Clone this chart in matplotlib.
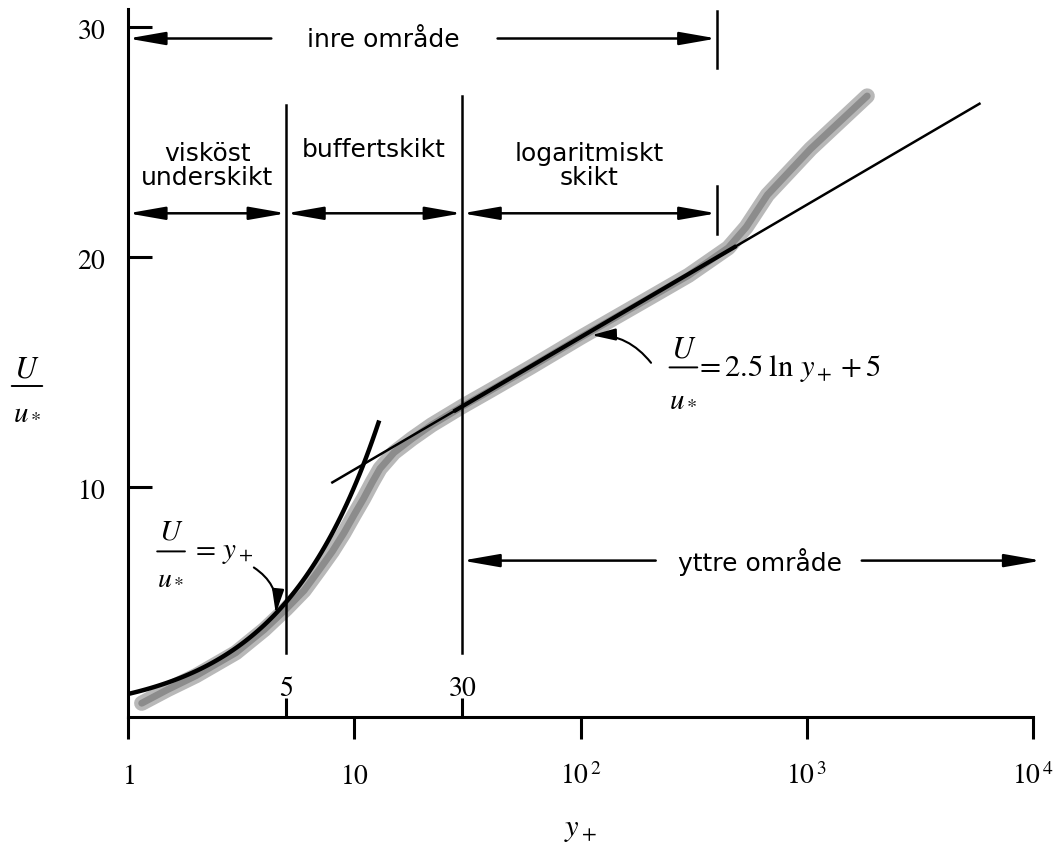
import numpy as np
import matplotlib
matplotlib.use("Agg")
import matplotlib.pyplot as plt
from matplotlib.transforms import offset_copy

plt.rcParams["mathtext.fontset"] = "stix"
plt.rcParams["font.family"] = ["DejaVu Sans"]

# Measured velocity profile band (y+, U/u*)
band_yplus = [1.15, 1.5, 2.0, 3.0, 4.0, 5.0, 6.0, 7.0, 8.0, 9.0, 10.0, 11.0, 12.0,
              13.0, 15.0, 18.0, 22.0, 30.0, 40.0, 60.0, 100.0, 200.0, 300.0, 450.0,
              540.0, 670.0, 1040.0, 1850.0]
band_u = [0.6, 1.2, 1.8, 2.8, 3.8, 4.7, 5.5, 6.4, 7.2, 8.0, 8.8, 9.5, 10.2,
          10.8, 11.5, 12.1, 12.7, 13.5, 14.2, 15.2, 16.5, 18.2, 19.2, 20.4,
          21.3, 22.7, 24.7, 27.0]

# Ranges of the two wall laws
viscous_range = [1.0, 12.8]
loglaw_range = [8.0, 5800.0]
loglaw_kappa_inv = 2.5
loglaw_const = 5.0

# Region boundaries in y+
region_bounds = [1, 5, 30, 400]
outer_start = 30
outer_end = 10900

# Axis ticks
xticks = [1, 10, 100, 1000, 10000]
xticklabels = [r"$1$", r"$10$", r"$10^{\,2}$", r"$10^{\,3}$", r"$10^{\,4}$"]
yticks = [10, 20, 30]
yticklabels = [r"$10$", r"$20$", r"$30$"]
boundary_labels = ["5", "30"]

W, H = 1061, 854
fig = plt.figure(figsize=(W / 100, H / 100), dpi=100)
ax = fig.add_axes([128 / W, 1 - 718 / H, 905 / W, 30.8 * 23 / H])
ax.set_xscale("log")
ax.set_xlim(1, 1e4)
ax.set_ylim(0, 30.8)

for side in ["top", "right"]:
    ax.spines[side].set_visible(False)
for side in ["left", "bottom"]:
    ax.spines[side].set_linewidth(2.2)

ax.set_xticks(xticks)
ax.set_xticklabels(xticklabels)
ax.set_xticks(region_bounds[1:3], minor=True)
ax.set_xticklabels([], minor=True)
ax.tick_params(axis="x", which="major", direction="out", length=16, width=2.2,
               pad=16, labelsize=20)
ax.tick_params(axis="x", which="minor", direction="in", length=14, width=2.2)
ax.set_yticks(yticks)
ax.set_yticklabels(yticklabels)
ax.tick_params(axis="y", direction="in", length=17, width=2.2, pad=16, labelsize=20)

# Data band
ax.plot(band_yplus, band_u, color="#b8b8b8", lw=11, solid_capstyle="round", zorder=2)
ax.plot(band_yplus, band_u, color="#8c8c8c", lw=5, solid_capstyle="round", zorder=2)

# Viscous sublayer law U/u* = y+
yv = np.geomspace(viscous_range[0], viscous_range[1], 80)
ax.plot(yv, yv, color="black", lw=3.2, zorder=4)

# Logarithmic law U/u* = 2.5 ln y+ + 5
yl = np.geomspace(loglaw_range[0], loglaw_range[1], 200)
ul = loglaw_kappa_inv * np.log(yl) + loglaw_const
ax.plot(yl, ul, color="black", lw=1.8, zorder=4)
yl_core = np.geomspace(28, 480, 100)
ax.plot(yl_core, loglaw_kappa_inv * np.log(yl_core) + loglaw_const,
        color="black", lw=3.0, zorder=4)

# Region boundary lines
ax.plot([region_bounds[1]] * 2, [2.8, 26.6], color="black", lw=1.8, zorder=3)
ax.plot([region_bounds[2]] * 2, [2.8, 27.0], color="black", lw=1.8, zorder=3)
ax.plot([region_bounds[3]] * 2, [28.2, 30.7], color="black", lw=1.8, zorder=3)
ax.plot([region_bounds[3]] * 2, [21.0, 23.1], color="black", lw=1.8, zorder=3)
for xb, lab in zip(region_bounds[1:3], boundary_labels):
    ax.text(xb, 1.3, f"${lab}$", ha="center", va="center", fontsize=20)

one_head = "-|>,head_length=1.6,head_width=0.28"
two_head = "<|-|>,head_length=1.6,head_width=0.28"


def harrow(x0, x1, y, style):
    ax.annotate("", xy=(x1, y), xytext=(x0, y), annotation_clip=False,
                arrowprops=dict(arrowstyle=style, color="black", lw=1.8,
                                shrinkA=0, shrinkB=0, mutation_scale=14))


def fraction(x, y, base, size, half_width, up, down):
    """U over u* stacked around (x, y) given in the `base` transform."""
    t_num = offset_copy(base, fig=fig, x=0, y=up, units="points")
    t_den = offset_copy(base, fig=fig, x=0, y=-down, units="points")
    t_l = offset_copy(base, fig=fig, x=-half_width, y=0, units="points")
    t_r = offset_copy(base, fig=fig, x=half_width, y=0, units="points")
    fig.text(x, y, r"$U$", transform=t_num, ha="center", va="center", fontsize=size)
    fig.text(x, y, r"$u_*$", transform=t_den, ha="center", va="center",
             fontsize=size * 0.95)
    ax.annotate("", xy=(x, y), xycoords=t_r, xytext=(x, y), textcoords=t_l,
                annotation_clip=False,
                arrowprops=dict(arrowstyle="-", color="black", lw=1.4,
                                shrinkA=0, shrinkB=0))


# Inner region
ax.text(13.4, 29.5, "inre område", ha="center", va="center", fontsize=18)
harrow(4.3, region_bounds[0], 29.5, one_head)
harrow(43, region_bounds[3], 29.5, one_head)

# Sub-layers of the inner region
for a, b in zip(region_bounds[:-1], region_bounds[1:]):
    harrow(a, b, 21.9, two_head)
ax.text(np.sqrt(region_bounds[0] * region_bounds[1]), 24.0, "visköst\nunderskikt",
        ha="center", va="center", fontsize=18, linespacing=1.05)
ax.text(np.sqrt(region_bounds[1] * region_bounds[2]), 24.7, "buffertskikt",
        ha="center", va="center", fontsize=18)
ax.text(np.sqrt(region_bounds[2] * region_bounds[3]), 24.0, "logaritmiskt\nskikt",
        ha="center", va="center", fontsize=18, linespacing=1.05)

# Outer region
ax.text(620, 6.8, "yttre område", ha="center", va="center", fontsize=18)
harrow(215, outer_start, 6.8, one_head)
harrow(1750, outer_end, 6.8, one_head)

# Viscous law label
fraction(1.55, 7.2, ax.transData, 21, 10, 15, 17)
ax.text(1.9, 7.2, r"$=\,y_+$", ha="left", va="center", fontsize=21)
ax.annotate("", xy=(4.5, 4.5), xytext=(3.6, 6.5),
            arrowprops=dict(arrowstyle="-|>,head_length=1.2,head_width=0.3",
                            color="black", lw=1.5, shrinkA=0, shrinkB=0,
                            mutation_scale=12, connectionstyle="arc3,rad=-0.3"))

# Log law label
fraction(285, 15.2, ax.transData, 22, 10, 14, 21)
ax.text(320, 15.2, r"$=2.5\;\ln\,y_+ + 5$", ha="left", va="center", fontsize=22)
ax.annotate("", xy=(112, 16.6), xytext=(205, 15.4),
            arrowprops=dict(arrowstyle="-|>,head_length=1.2,head_width=0.3",
                            color="black", lw=1.5, shrinkA=0, shrinkB=0,
                            mutation_scale=12, connectionstyle="arc3,rad=0.25"))

# Axis labels
fig.text(580 / W, 1 - 830 / H, r"$y_+$", ha="center", va="center", fontsize=22)
fraction(27 / W, 1 - 387 / H, fig.transFigure, 22, 11, 13, 17)

fig.savefig("out.png", dpi=100)
